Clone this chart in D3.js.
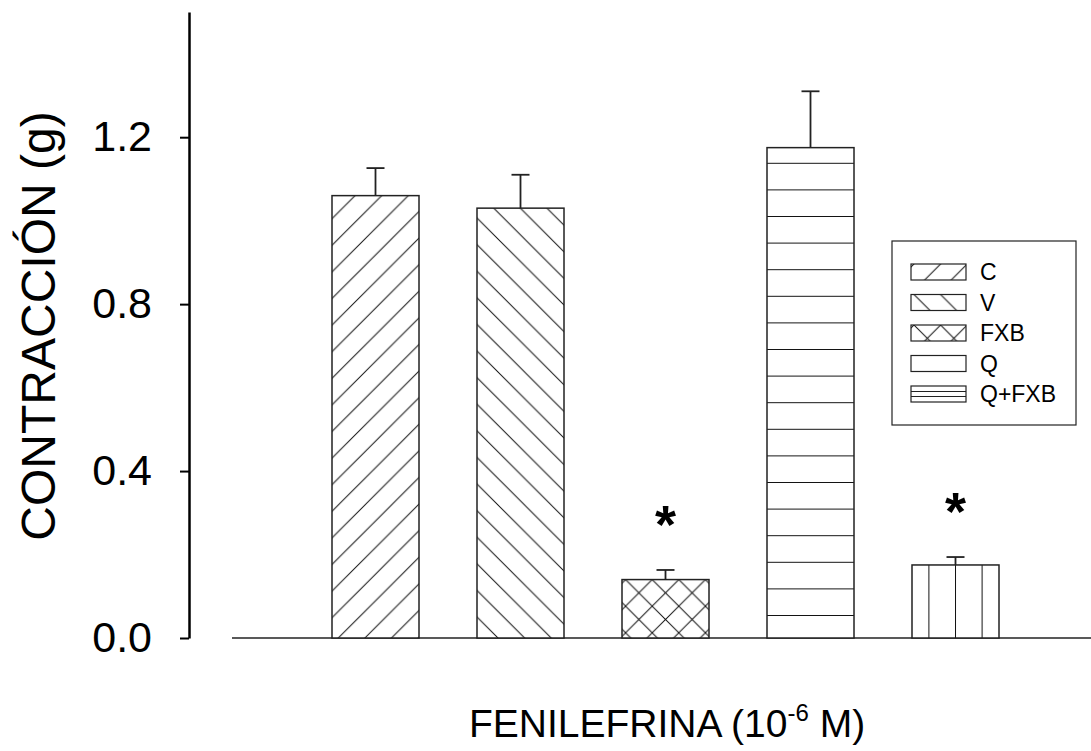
<!DOCTYPE html>
<html>
<head>
<meta charset="utf-8">
<script src="https://cdn.jsdelivr.net/npm/d3@7"></script>
<style>
  body { margin: 0; background: #fff; }
  text { font-family: "Liberation Sans", Arial, sans-serif; fill: #000; }
</style>
</head>
<body>
<div id="chart"></div>
<script>
// data
var groups = ["C", "V", "FXB", "Q", "Q+FXB"];
var means = [1.06, 1.03, 0.14, 1.175, 0.175];
var sems = [0.066, 0.080, 0.023, 0.135, 0.019];
var signif = [false, false, true, false, true];
var yTicks = [0, 0.4, 0.8, 1.2];
var legendLabels = ["C", "V", "FXB", "Q", "Q+FXB"];

// fill style of each bar, and of each legend swatch (as drawn in the original)
var barFills = ["up", "down", "cross", "horiz", "vert"];
var legendFills = ["up", "down", "cross", "none", "hline2"];

var svg = d3.select("#chart").append("svg").attr("width", 1091).attr("height", 751),
    width = +svg.attr("width"),
    height = +svg.attr("height");

var x = d3.scaleBand().domain(groups).range([303, 1028]).paddingInner(0.4).paddingOuter(0.2);
var y = d3.scaleLinear().domain([0, 1.5]).range([638, 12]);
var P = 26.6; // hatch spacing
var defs = svg.append("defs");

function makePattern(id, kind, ox, oy) {
    var p = defs.append("pattern").attr("id", id)
        .attr("patternUnits", "userSpaceOnUse")
        .attr("x", ox).attr("y", oy)
        .attr("width", kind == "horiz" ? 10 : P)
        .attr("height", kind == "vert" ? 10 : P);
    p.append("rect").attr("width", P).attr("height", P).attr("fill", "#fff");
    var d = "";
    if (kind == "up" || kind == "cross") d += "M-2," + (P + 2) + "L" + (P + 2) + ",-2 M-2,2 L2,-2 M" + (P - 2) + "," + (P + 2) + "L" + (P + 2) + "," + (P - 2);
    if (kind == "down" || kind == "cross") d += "M-2,-2 L" + (P + 2) + "," + (P + 2) + " M" + (P - 2) + ",-2 L" + (P + 2) + ",2 M-2," + (P - 2) + " L2," + (P + 2);
    if (kind == "horiz") d += "M-1,0.5 L11,0.5";
    if (kind == "vert") d += "M0.5,-1 L0.5,11";
    p.append("path").attr("d", d).attr("stroke", "#111").attr("stroke-width", 1).attr("fill", "none");
}

groups.forEach(function(g, i) {
    var bx = x(g), by = y(means[i]);
    var ox = bx, oy = y(0);
    if (barFills[i] == "up") ox = bx + 6.3;
    if (barFills[i] == "down") ox = bx + 21;
    if (barFills[i] == "cross") { ox = bx + x.bandwidth() / 2 - P / 2; oy = by; }
    if (barFills[i] == "horiz") oy = y(0) - 23;
    if (barFills[i] == "vert") ox = bx + x.bandwidth() / 2 - 0.5;
    makePattern("bar" + i, barFills[i], ox, oy);
});

// x axis line
svg.append("line")
    .attr("x1", 232).attr("x2", width)
    .attr("y1", y(0)).attr("y2", y(0))
    .attr("stroke", "#222").attr("stroke-width", 1.5);

// bars
svg.append("g").selectAll("rect")
    .data(groups)
    .enter().append("rect")
    .attr("x", function(d) { return x(d); })
    .attr("y", function(d, i) { return y(means[i]); })
    .attr("width", x.bandwidth())
    .attr("height", function(d, i) { return y(0) - y(means[i]); })
    .attr("fill", function(d, i) { return "url(#bar" + i + ")"; })
    .attr("stroke", "#222").attr("stroke-width", 1.5);

// error bars
var err = svg.append("g").attr("stroke", "#222").attr("stroke-width", 1.8);
groups.forEach(function(g, i) {
    var cx = x(g) + x.bandwidth() / 2;
    err.append("line").attr("x1", cx).attr("x2", cx)
        .attr("y1", y(means[i])).attr("y2", y(means[i] + sems[i]));
    err.append("line").attr("x1", cx - 9).attr("x2", cx + 9)
        .attr("y1", y(means[i] + sems[i])).attr("y2", y(means[i] + sems[i]));
    if (signif[i]) {
        svg.append("text")
            .attr("x", cx).attr("y", y(means[i] + sems[i]) - 27)
            .attr("text-anchor", "middle")
            .style("font-size", "54px").style("font-weight", "bold")
            .text("*");
    }
});

// y axis
var yAxis = svg.append("g")
    .attr("transform", "translate(189,0)")
    .call(d3.axisLeft(y).tickValues(yTicks).tickFormat(d3.format(".1f")).tickSize(9).tickSizeOuter(0).tickPadding(28));
yAxis.select(".domain").attr("stroke", "#000").attr("stroke-width", 2.5);
yAxis.selectAll(".tick line").attr("stroke", "#000").attr("stroke-width", 2);
yAxis.selectAll(".tick text")
    .style("font-family", "'Liberation Sans', Arial, sans-serif")
    .style("font-size", "43px").attr("fill", "#000");

// axis titles
svg.append("text")
    .attr("transform", "translate(55,326) rotate(-90)")
    .attr("text-anchor", "middle")
    .style("font-size", "48px")
    .text("CONTRACCIÓN (g)");

var xt = svg.append("text")
    .attr("x", 667).attr("y", 737)
    .attr("text-anchor", "middle")
    .style("font-size", "39px");
xt.append("tspan").text("FENILEFRINA (10");
xt.append("tspan").attr("dy", -16).style("font-size", "24px").text("-6");
xt.append("tspan").attr("dy", 16).text(" M)");

// legend
var lg = svg.append("g");
lg.append("rect").attr("x", 892).attr("y", 241).attr("width", 184).attr("height", 184)
    .attr("fill", "#fff").attr("stroke", "#222").attr("stroke-width", 1.2);
legendLabels.forEach(function(l, i) {
    var sy = 264 + i * 30.5;
    if (legendFills[i] != "none" && legendFills[i] != "hline2") makePattern("leg" + i, legendFills[i], 911 + 3, sy);
    lg.append("rect").attr("x", 911).attr("y", sy).attr("width", 55).attr("height", 16)
        .attr("fill", (legendFills[i] == "none" || legendFills[i] == "hline2") ? "#fff" : "url(#leg" + i + ")")
        .attr("stroke", "#222").attr("stroke-width", 1.2);
    if (legendFills[i] == "hline2") {
        [5.5, 10.5].forEach(function(o) {
            lg.append("line").attr("x1", 911).attr("x2", 966).attr("y1", sy + o).attr("y2", sy + o)
                .attr("stroke", "#222").attr("stroke-width", 1);
        });
    }
    lg.append("text").attr("x", 980).attr("y", sy + 8).attr("dy", "0.36em")
        .style("font-size", "23px").text(l);
});
</script>
</body>
</html>
